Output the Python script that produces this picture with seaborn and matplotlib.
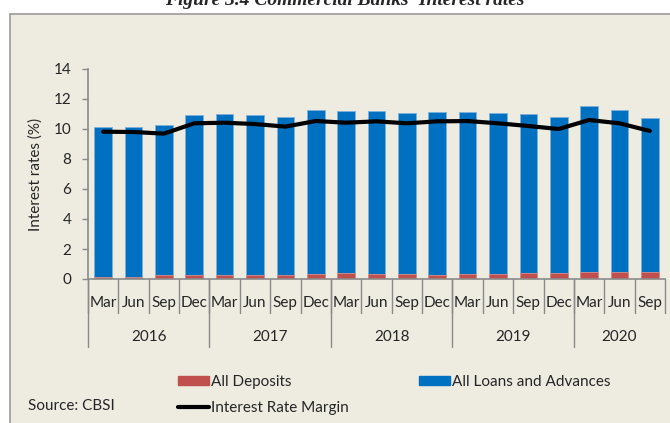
import numpy as np
import pandas as pd
import seaborn as sns
import matplotlib.pyplot as plt
from matplotlib.patches import Patch, Rectangle
from matplotlib.lines import Line2D
from matplotlib.transforms import blended_transform_factory

# quarterly data
years = ['2016', '2017', '2018', '2019', '2020']
months = ['Mar', 'Jun', 'Sep', 'Dec']
quarters = [m + ' ' + y for y in years for m in months][:19]
month_labels = [q.split()[0] for q in quarters]

loans = [10.13, 10.10, 10.27, 10.93, 10.98, 10.95, 10.78, 11.27,
         11.20, 11.20, 11.04, 11.11, 11.15, 11.09, 10.98, 10.78,
         11.55, 11.27, 10.76]
deposits = [0.16, 0.13, 0.27, 0.27, 0.27, 0.27, 0.27, 0.36,
            0.40, 0.33, 0.31, 0.27, 0.31, 0.33, 0.40, 0.40,
            0.49, 0.44, 0.44]
margin = [9.82, 9.80, 9.69, 10.38, 10.42, 10.33, 10.16, 10.53,
          10.42, 10.51, 10.38, 10.51, 10.53, 10.38, 10.20, 10.00,
          10.60, 10.38, 9.87]

df = pd.DataFrame({'quarter': quarters, 'loans': loans,
                   'deposits': deposits, 'margin': margin})

sns.set_theme(style='white')
plt.rcParams['font.family'] = ['Lato', 'DejaVu Sans']
fs = 11

W, H = 670, 423
fig = plt.figure(figsize=(6.7, 4.23), dpi=100)
fig.patch.set_facecolor('white')
bg = '#EEEBE0'
fig.patches.append(Rectangle((10 / W, -0.05), 1.2, 1.05 - 14 / H,
                             transform=fig.transFigure, facecolor=bg,
                             edgecolor='#9a9a9a', lw=1.2, zorder=-5))

# title sits mostly above the top edge, as in the source page crop
fig.text(345 / W, 1 - 5 / H, "Figure 3.4 Commercial Banks' Interest rates",
         family='Liberation Serif', style='italic', weight='bold',
         fontsize=14, ha='center', va='baseline')

ax = fig.add_axes([88 / W, 1 - 279 / H, 577 / W, 210 / H])
ax.set_facecolor('none')

blue = '#0070C0'
red = '#C0504D'
sns.barplot(data=df, x='quarter', y='loans', color=blue, saturation=1,
            width=0.58, edgecolor='#7FB0DC', linewidth=0.6, ax=ax)
sns.barplot(data=df, x='quarter', y='deposits', color=red, saturation=1,
            width=0.58, edgecolor='#D98E8C', linewidth=0.6, ax=ax)
sns.lineplot(x=np.arange(len(quarters)), y=df['margin'], color='black',
             lw=3, ax=ax)

n = len(quarters)
ax.set_xlim(-0.5, n - 0.5)
ax.set_ylim(0, 14)
ax.set_yticks(range(0, 15, 2))
ax.set_xticks([])
ax.set_xlabel('')
ax.set_ylabel('Interest rates (%)', fontsize=fs, labelpad=8)
ax.tick_params(axis='y', left=True, length=4, width=1, color='#8a8a8a',
               pad=8, labelsize=fs)
for s in ['top', 'right']:
    ax.spines[s].set_visible(False)
for s in ['left', 'bottom']:
    ax.spines[s].set_color('#8a8a8a')
    ax.spines[s].set_linewidth(1.2)

# two-level category axis
tr = blended_transform_factory(ax.transData, ax.transAxes)
for i, m in enumerate(month_labels):
    ax.text(i, -24 / 210, m, transform=tr, ha='center', va='center',
            fontsize=fs)
for i in range(n + 1):
    ax.plot([i - 0.5, i - 0.5], [0, -34 / 210], transform=tr,
            color='#8a8a8a', lw=1, clip_on=False)
for k, y in enumerate(years):
    start = k * 4
    end = min(start + 4, n)
    ax.plot([start - 0.5, start - 0.5], [0, -68 / 210], transform=tr,
            color='#8a8a8a', lw=1, clip_on=False)
    ax.text((start + end - 1) / 2, -58 / 210, y, transform=tr,
            ha='center', va='center', fontsize=fs)

leg1 = fig.legend(handles=[Patch(color=red, label='All Deposits'),
                           Line2D([], [], color='black', lw=3,
                                  label='Interest Rate Margin')],
                  loc='upper left', bbox_to_anchor=(178 / W, 1 - 375 / H),
                  frameon=False, fontsize=fs, handlelength=2.0,
                  handleheight=0.6, handletextpad=0.15, borderpad=0,
                  borderaxespad=0, labelspacing=0.8)
leg2 = fig.legend(handles=[Patch(color=blue, label='All Loans and Advances')],
                  loc='upper left', bbox_to_anchor=(419 / W, 1 - 375 / H),
                  frameon=False, fontsize=fs, handlelength=2.0,
                  handleheight=0.6, handletextpad=0.15, borderpad=0,
                  borderaxespad=0)

fig.text(28 / W, 1 - 406 / H, 'Source: CBSI', fontsize=fs, va='center')

fig.savefig('out.png', dpi=100, facecolor=fig.get_facecolor())
